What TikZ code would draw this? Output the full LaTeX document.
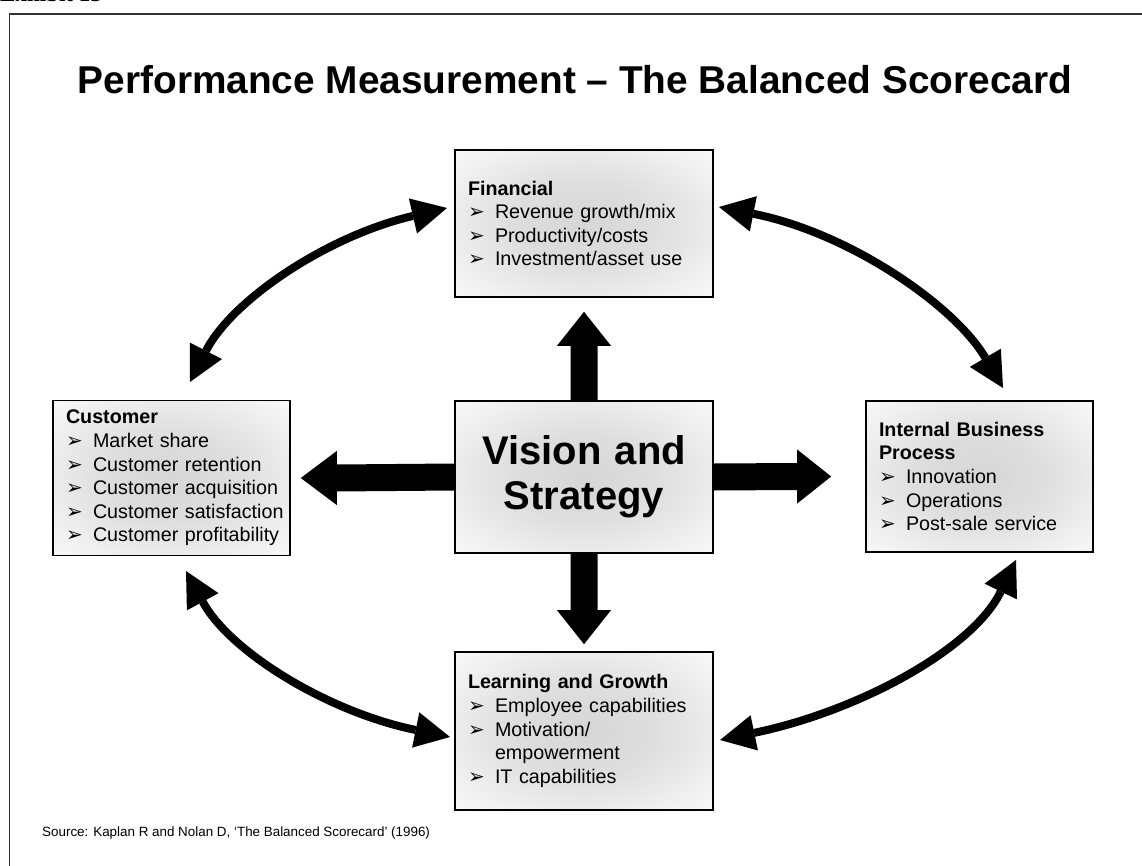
\documentclass[tikz,border=0pt]{standalone}
\usepackage{fontspec}
\setmainfont{Liberation Sans}
\newfontfamily\symfont{DejaVu Sans}
\newfontfamily\exhibitfont{Liberation Serif}
\usetikzlibrary{arrows.meta,calc}

% soft grey glow inside each panel
\pgfdeclareradialshading{boxglow}{\pgfpointorigin}{%
  color(0bp)=(black!16); color(14bp)=(black!13); color(30bp)=(black!5);
  color(42bp)=(white); color(50bp)=(white)}

% one bulleted line that never wraps
\newcommand\bul{\makebox[27pt][l]{\symfont\fontsize{20}{20}\selectfont ➢}}
\newcommand\entry[1]{\mbox{\bul #1}}

\tikzset{
  panel/.style={draw=black, line width=1.6pt, shading=boxglow,
    inner xsep=13pt, inner ysep=0pt, align=left,
    font=\fontsize{19.7}{23.6}\selectfont},
  blockfill/.style={fill=black},
  looparrow/.style={line width=8pt, black,
    {Triangle[length=35pt,width=36pt,line width=0pt]}-{Triangle[length=35pt,width=36pt,line width=0pt]}},
}

\begin{document}
\begin{tikzpicture}[x=1pt,y=-1pt]
\useasboundingbox[fill=white] (0,0) rectangle (1142,866);

% page frame and heading
\node[anchor=base west, inner sep=0pt, font=\exhibitfont\bfseries\fontsize{23}{23}\selectfont] (exhibit) at (0,1.5) {Exhibit 13};
\draw[line width=1.5pt, black!80] (9.5,866) -- (9.5,14) -- (1142,14);
\node[font=\bfseries\fontsize{38.8}{46}\selectfont] (title) at (575,80)
  {Performance Measurement – The Balanced Scorecard};

% the five panels
\node[panel, minimum width=258pt, minimum height=152pt, text width=232pt,
  align=center, font=\bfseries\fontsize{40}{45}\selectfont] (vs) at (584,477)
  {Vision and\\Strategy};

\node[panel, minimum width=258pt, minimum height=147pt, text width=232pt] (fin) at (584,223.5)
  {\textbf{Financial}\\
   \entry{Revenue growth/mix}\\
   \entry{Productivity/costs}\\
   \entry{Investment/asset use}};

\node[panel, minimum width=237pt, minimum height=155pt, text width=211pt] (cust) at (171.5,478)
  {\textbf{Customer}\\
   \entry{Market share}\\
   \entry{Customer retention}\\
   \entry{Customer acquisition}\\
   \entry{Customer satisfaction}\\
   \entry{Customer profitability}};

\node[panel, minimum width=227pt, minimum height=151pt, text width=201pt] (ibp) at (979.5,476.5)
  {\textbf{Internal Business}\\
   \textbf{Process}\\
   \entry{Innovation}\\
   \entry{Operations}\\
   \entry{Post-sale service}};

\node[panel, minimum width=258pt, minimum height=158pt, text width=232pt] (learn) at (584,731)
  {\textbf{Learning and Growth}\\
   \entry{Employee capabilities}\\
   \entry{Motivation/}\\
   \hspace*{27pt}empowerment\\
   \entry{IT capabilities}};

% block arrows out of the centre: shaft 27 wide, head 54 wide and 34 long
\fill[blockfill] ($(vs.north)+(-13.5,0)$) -- ($(fin.south)+(-13.5,48)$) -- ($(fin.south)+(-27,48)$)
  -- ($(fin.south)+(0,14)$) -- ($(fin.south)+(27,48)$) -- ($(fin.south)+(13.5,48)$)
  -- ($(vs.north)+(13.5,0)$) -- cycle;
\fill[blockfill] ($(vs.south)+(-13.5,0)$) -- ($(learn.north)+(-13.5,-41)$) -- ($(learn.north)+(-27,-41)$)
  -- ($(learn.north)+(0,-7)$) -- ($(learn.north)+(27,-41)$) -- ($(learn.north)+(13.5,-41)$)
  -- ($(vs.south)+(13.5,0)$) -- cycle;
\fill[blockfill] ($(vs.west)+(0,-13.5)$) -- ($(cust.east)+(46,-13.5)$) -- ($(cust.east)+(46,-27)$)
  -- ($(cust.east)+(10,0)$) -- ($(cust.east)+(46,27)$) -- ($(cust.east)+(46,13.5)$)
  -- ($(vs.west)+(0,13.5)$) -- cycle;
\fill[blockfill] ($(vs.east)+(0,-13.5)$) -- ($(ibp.west)+(-68,-13.5)$) -- ($(ibp.west)+(-68,-27)$)
  -- ($(ibp.west)+(-34,0)$) -- ($(ibp.west)+(-68,27)$) -- ($(ibp.west)+(-68,13.5)$)
  -- ($(vs.east)+(0,13.5)$) -- cycle;

% ends of the curved two-way arrows
\coordinate (finW) at (447,208);
\coordinate (finE) at (719,207);
\coordinate (custN) at (190,382);
\coordinate (custS) at (186,571);
\coordinate (ibpN) at (1003,388);
\coordinate (ibpS) at (1016,560);
\coordinate (learnW) at (450,737);
\coordinate (learnE) at (720,740);

\draw[looparrow] (finW) .. controls (327,236) and (232,300) .. (custN);
\draw[looparrow] (finE) .. controls (850,233) and (955,306) .. (ibpN);
\draw[looparrow] (custS) .. controls (230,652) and (328,712) .. (learnW);
\draw[looparrow] (learnE) .. controls (859,711) and (973,649) .. (ibpS);

% source line
\node[anchor=west, inner sep=0pt, font=\fontsize{13.4}{16}\selectfont] (src) at (42,833)
  {Source: Kaplan R and Nolan D, ‘The Balanced Scorecard’ (1996)};
\end{tikzpicture}
\end{document}
